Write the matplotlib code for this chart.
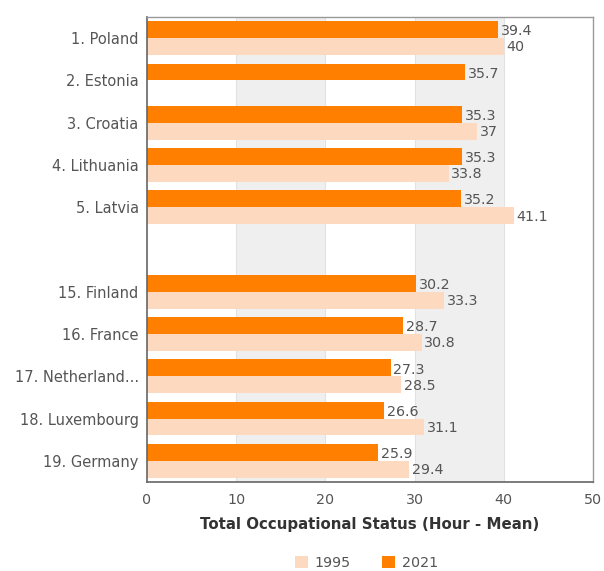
import matplotlib
matplotlib.use("Agg")
import matplotlib.pyplot as plt
from matplotlib.patches import Patch
import numpy as np

countries = ["1. Poland", "2. Estonia", "3. Croatia", "4. Lithuania", "5. Latvia",
             "15. Finland", "16. France", "17. Netherland...", "18. Luxembourg", "19. Germany"]
rows = [0, 1, 2, 3, 4, 6, 7, 8, 9, 10]
values_2021 = [39.4, 35.7, 35.3, 35.3, 35.2, 30.2, 28.7, 27.3, 26.6, 25.9]
values_1995 = [40, None, 37, 33.8, 41.1, 33.3, 30.8, 28.5, 31.1, 29.4]
xticks = [0, 10, 20, 30, 40, 50]
xlabel = "Total Occupational Status (Hour - Mean)"

dark = "#FF7F00"
light = "#FDD9BF"
txt = "#555555"

fig = plt.figure(figsize=(6.04, 5.71), dpi=100)
ax = fig.add_axes([0.2434, 0.1559, 0.7384, 0.8143])

for a, b in [(10, 20), (30, 40)]:
    ax.axvspan(a, b, color="#EFEFEF", zorder=0, lw=0)
for x in [10, 20, 30, 40]:
    ax.axvline(x, color="#E2E2E2", lw=0.8, zorder=0.5)

h = 0.4
for r, v21, v95 in zip(rows, values_2021, values_1995):
    ax.barh(r - h / 2, v21, height=h, color=dark, zorder=2)
    ax.text(v21 + 0.3, r - h / 2 + 0.04, f"{v21:g}", va="center", ha="left",
            fontsize=10.3, color=txt, zorder=3)
    if v95 is not None:
        ax.barh(r + h / 2, v95, height=h, color=light, zorder=2)
        ax.text(v95 + 0.3, r + h / 2 + 0.02, f"{v95:g}", va="center", ha="left",
                fontsize=10.3, color=txt, zorder=3)

ax.set_xlim(0, 50)
ax.set_ylim(10.5, -0.5)
ax.set_xticks(xticks)
ax.set_xticklabels([str(t) for t in xticks], fontsize=10.3, color=txt)
ax.set_yticks(rows)
ax.set_yticklabels(countries, fontsize=10.5, color=txt)
ax.tick_params(axis="both", length=0, pad=6)
ax.tick_params(axis="x", pad=8)
ax.set_xlabel(xlabel, fontsize=10.8, fontweight="bold", color="#333333", labelpad=7)

for s in ["top", "right"]:
    ax.spines[s].set_color("#999999")
    ax.spines[s].set_linewidth(1.0)
for s in ["left", "bottom"]:
    ax.spines[s].set_color("#666666")
    ax.spines[s].set_linewidth(1.2)

handles = [Patch(facecolor=light, edgecolor="none", label="1995"),
           Patch(facecolor=dark, edgecolor="none", label="2021")]
fig.legend(handles=handles, loc="center", bbox_to_anchor=(0.607, 0.014), ncol=2,
           frameon=False, fontsize=10.3, labelcolor=txt, handlelength=0.9,
           handleheight=0.9, columnspacing=2.2, handletextpad=0.5)

fig.savefig("out.png", dpi=100)
